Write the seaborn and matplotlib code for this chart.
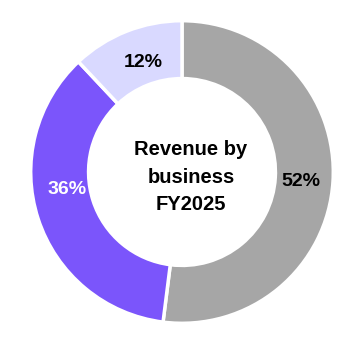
import matplotlib
matplotlib.use("Agg")
import matplotlib.pyplot as plt
import numpy as np
import seaborn as sns

categories = ["Business A", "Business B", "Business C"]
shares = [52, 36, 12]
pct_labels = ["52%", "36%", "12%"]
colors = ["#a6a6a6", "#7b55fb", "#d9d9ff"]
label_colors = ["#000000", "#ffffff", "#000000"]
center_title = "Revenue by\nbusiness\nFY2025"

# label placement tweaks (degrees of shift from the wedge midpoint, radius)
label_angle_shift = [-0.9, -9.3, -2.0]
label_radius = [0.80, 0.78, 0.78]

sns.set_theme(style="white")
plt.rcParams["font.family"] = ["Liberation Sans", "DejaVu Sans"]

W, H, R = 364, 344, 149.5
fig = plt.figure(figsize=(W / 100, H / 100), dpi=100)
ax = fig.add_axes([0, 0, 1, 1])
wedges, texts = ax.pie(
    shares,
    colors=colors,
    startangle=90,
    counterclock=False,
    radius=1.012,
    wedgeprops=dict(width=0.387, edgecolor="white", linewidth=2.5),
)
for w, lab, c, sh, rr in zip(wedges, pct_labels, label_colors,
                             label_angle_shift, label_radius):
    ang = np.deg2rad((w.theta1 + w.theta2) / 2 + sh)
    ax.text(rr * np.cos(ang), rr * np.sin(ang), lab, ha="center", va="center",
            color=c, fontsize=14, fontweight="bold")

ax.text(0.06, -0.035, center_title, ha="center", va="center", fontsize=14.5,
        fontweight="bold", color="black", linespacing=1.55)

ax.set_xlim(-182 / R, 182 / R)
ax.set_ylim(-172 / R, 172 / R)
ax.set_aspect("equal")
ax.axis("off")
fig.savefig("out.png", dpi=100, facecolor="white")
